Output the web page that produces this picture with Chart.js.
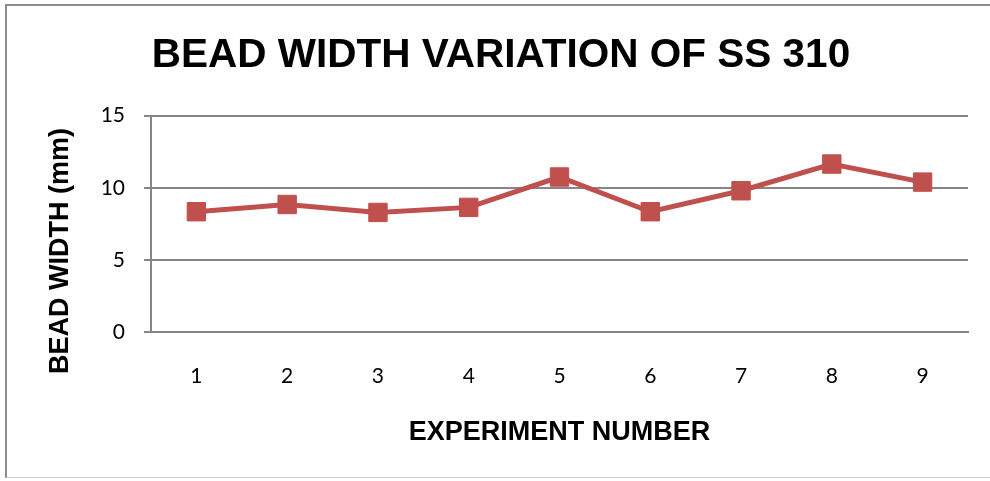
<!DOCTYPE html>
<html>
<head>
<meta charset="utf-8">
<script src="https://cdn.jsdelivr.net/npm/chart.js@4.4.1/dist/chart.umd.min.js"></script>
<style>
  html, body { margin: 0; padding: 0; background: #fff; }
  #frame {
    position: absolute; left: 0; top: 0; width: 990px; height: 481px;
  }
  #border {
    position: absolute; left: 5px; top: 4px; width: 990px; height: 474px;
    border-left: 2px solid #8c8c8c; border-top: 2px solid #8c8c8c;
    border-bottom: 1px solid #d0d0d0; box-sizing: border-box;
  }
  canvas { position: absolute; left: 0; top: 0; }
</style>
</head>
<body>
<div id="frame">
  <div id="border"></div>
  <canvas id="c" width="990" height="481"></canvas>
</div>
<script>
// Experiment numbers and the measured bead width for each run
const experiments = ['1', '2', '3', '4', '5', '6', '7', '8', '9'];
const beadWidth = [8.35, 8.85, 8.3, 8.65, 10.75, 8.35, 9.8, 11.65, 10.4];
const yTicks = [0, 5, 10, 15];
const yTitle = 'BEAD WIDTH (mm)';

const titleFont = '"Liberation Sans", Arial, sans-serif';
const tickFont = 'Lato, "Open Sans", sans-serif';

// Vertical axis title, placed left of the tick labels and slightly below the plot middle
const yTitlePlugin = {
  id: 'yTitle',
  afterDraw(chart) {
    const { ctx, chartArea } = chart;
    ctx.save();
    ctx.translate(chartArea.left - 90, (chartArea.top + chartArea.bottom) / 2 + 27);
    ctx.rotate(-Math.PI / 2);
    ctx.font = 'bold 27px ' + titleFont;
    ctx.fillStyle = '#000';
    ctx.textAlign = 'center';
    ctx.textBaseline = 'middle';
    ctx.fillText(yTitle, 0, 0);
    ctx.restore();
  }
};

new Chart(document.getElementById('c'), {
  type: 'line',
  data: {
    labels: experiments,
    datasets: [{
      data: beadWidth,
      borderColor: '#C0504D',
      backgroundColor: '#C0504D',
      borderWidth: 5,
      pointStyle: 'rect',
      pointRadius: 13,
      pointHoverRadius: 13,
      pointBorderWidth: 1,
      pointBorderColor: '#C0504D',
      tension: 0
    }]
  },
  plugins: [yTitlePlugin],
  options: {
    responsive: false,
    animation: false,
    layout: { padding: { left: 34, right: 22, top: 32, bottom: 32 } },
    plugins: {
      legend: { display: false },
      tooltip: { enabled: false },
      title: {
        display: true,
        text: 'BEAD WIDTH VARIATION OF SS 310',
        color: '#000',
        font: { family: titleFont, size: 40.5, weight: 'bold' },
        padding: { top: 0, bottom: 35 }
      }
    },
    scales: {
      x: {
        offset: true,
        grid: { display: false, drawTicks: false },
        border: { color: '#868686', width: 2 },
        ticks: { color: '#000', font: { family: tickFont, size: 21 }, padding: 31 },
        title: {
          display: true,
          text: 'EXPERIMENT NUMBER',
          color: '#000',
          font: { family: titleFont, size: 27, weight: 'bold' },
          padding: { top: -3, bottom: 0 }
        }
      },
      y: {
        min: 0,
        max: 15,
        afterBuildTicks: (axis) => { axis.ticks = yTicks.map(v => ({ value: v })); },
        afterFit: (axis) => { axis.width = 117; },
        grid: { color: '#868686', lineWidth: 2, tickLength: 7 },
        border: { color: '#868686', width: 2 },
        ticks: { color: '#000', font: { family: tickFont, size: 21 }, padding: 19 }
      }
    }
  }
});
</script>
</body>
</html>
